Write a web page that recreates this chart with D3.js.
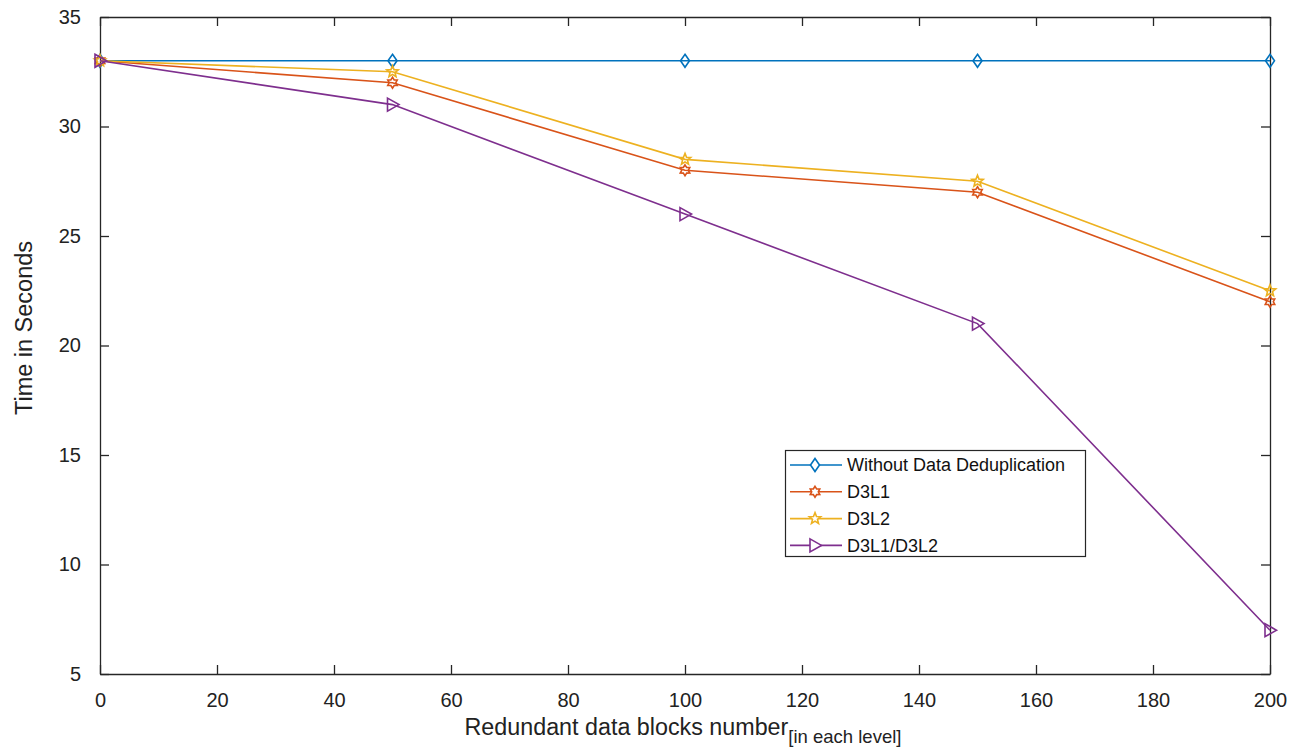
<!DOCTYPE html>
<html>
<head>
<meta charset="utf-8">
<script src="https://cdn.jsdelivr.net/npm/d3@7"></script>
<style>
  body { margin: 0; background: #fff; }
  svg { display: block; font-family: "Liberation Sans", Arial, sans-serif; }
</style>
</head>
<body>
<svg id="chart" width="1303" height="750"></svg>
<script>
// Redundant data blocks (x) and processing time in seconds per method
const blocks = [0, 50, 100, 150, 200];
const withoutDedup = [33, 33, 33, 33, 33];
const d3l1 = [33, 32, 28, 27, 22];
const d3l2 = [33, 32.5, 28.5, 27.5, 22.5];
const d3l1d3l2 = [33, 31, 26, 21, 7];

const seriesNames = ["Without Data Deduplication", "D3L1", "D3L2", "D3L1/D3L2"];
const seriesColors = ["#0072BD", "#D95319", "#EDB120", "#7E2F8E"];
const seriesMarkers = ["diamond", "hexagram", "pentagram", "triangleRight"];
const seriesValues = [withoutDedup, d3l1, d3l2, d3l1d3l2];

const xTicks = [0, 20, 40, 60, 80, 100, 120, 140, 160, 180, 200];
const yTicks = [5, 10, 15, 20, 25, 30, 35];

const svg = d3.select("#chart");
const margin = { left: 100, right: 33, top: 17, bottom: 76 };
const W = 1303, H = 750;
const x = d3.scaleLinear().domain([0, 200]).range([margin.left, W - margin.right]);
const y = d3.scaleLinear().domain([5, 35]).range([H - margin.bottom, margin.top]);

const axisColor = "#262626";
const tickLen = 9;

// Axes: MATLAB-style box with inward ticks on all four sides
const gx = svg.append("g").attr("transform", `translate(0,${y(5)})`)
  .call(d3.axisBottom(x).tickValues(xTicks).tickSizeInner(-tickLen).tickSizeOuter(0).tickPadding(tickLen + 10));
const gxTop = svg.append("g").attr("transform", `translate(0,${y(35)})`)
  .call(d3.axisTop(x).tickValues(xTicks).tickSizeInner(-tickLen).tickSizeOuter(0).tickFormat(""));
const gy = svg.append("g").attr("transform", `translate(${x(0)},0)`)
  .call(d3.axisLeft(y).tickValues(yTicks).tickSizeInner(-tickLen).tickSizeOuter(0).tickPadding(tickLen + 10));
const gyRight = svg.append("g").attr("transform", `translate(${x(200)},0)`)
  .call(d3.axisRight(y).tickValues(yTicks).tickSizeInner(-tickLen).tickSizeOuter(0).tickFormat(""));

[gx, gxTop, gy, gyRight].forEach(g => {
  g.selectAll("path.domain").attr("stroke", axisColor).attr("stroke-width", 1.3);
  g.selectAll(".tick line").attr("stroke", axisColor).attr("stroke-width", 1.3);
  g.selectAll(".tick text").attr("fill", "#222").style("font-size", "20px")
    .style("font-family", "'Liberation Sans', Arial, sans-serif");
});
gx.selectAll(".tick text").attr("dy", "0.71em");

// Axis titles
svg.append("text")
  .attr("x", 0).attr("y", 0)
  .attr("transform", `translate(32,328) rotate(-90)`)
  .attr("text-anchor", "middle")
  .attr("fill", "#222")
  .style("font-size", "23.5px")
  .text("Time in Seconds");

const xl = svg.append("text")
  .attr("x", 683)
  .attr("y", 735)
  .attr("text-anchor", "middle")
  .attr("fill", "#222")
  .style("font-size", "23.3px");
xl.append("tspan").text("Redundant data blocks number");
xl.append("tspan").attr("dy", 8).style("font-size", "18.5px").text("[in each level]");

// Marker shapes
function starPath(points, rOuter, rInner) {
  const pts = [];
  for (let i = 0; i < points * 2; i++) {
    const r = i % 2 === 0 ? rOuter : rInner;
    const a = -Math.PI / 2 + i * Math.PI / points;
    pts.push([r * Math.cos(a), r * Math.sin(a)]);
  }
  return "M" + pts.map(p => p.join(",")).join("L") + "Z";
}
function markerPath(kind) {
  switch (kind) {
    case "diamond": return "M0,-6.5L4.5,0L0,6.5L-4.5,0Z";
    case "hexagram": return starPath(6, 5.5, 3.3);
    case "pentagram": return starPath(5, 6, 2.6);
    case "triangleRight": return "M-5,-6.5L6.5,0L-5,6.5Z";
  }
}

// Lines and markers
const line = d3.line().x((d, i) => x(blocks[i])).y(d => y(d));
seriesValues.forEach((vals, s) => {
  svg.append("path")
    .datum(vals)
    .attr("d", line)
    .attr("fill", "none")
    .attr("stroke", seriesColors[s])
    .attr("stroke-width", 1.6);
  svg.append("g").selectAll("path")
    .data(vals)
    .join("path")
    .attr("transform", (d, i) => `translate(${x(blocks[i])},${y(d)})`)
    .attr("d", markerPath(seriesMarkers[s]))
    .attr("fill", "none")
    .attr("stroke", seriesColors[s])
    .attr("stroke-width", 1.6);
});

// Legend
const lg = svg.append("g");
lg.append("rect")
  .attr("x", 785.5).attr("y", 450.5)
  .attr("width", 300).attr("height", 106)
  .attr("fill", "#fff")
  .attr("stroke", axisColor)
  .attr("stroke-width", 1.2);
seriesNames.forEach((name, s) => {
  const ly = 465 + s * 26.8;
  lg.append("line")
    .attr("x1", 790).attr("x2", 842)
    .attr("y1", ly).attr("y2", ly)
    .attr("stroke", seriesColors[s]).attr("stroke-width", 1.6);
  lg.append("path")
    .attr("transform", `translate(815,${ly})`)
    .attr("d", markerPath(seriesMarkers[s]))
    .attr("fill", "#fff")
    .attr("stroke", seriesColors[s]).attr("stroke-width", 1.6);
  lg.append("text")
    .attr("x", 847).attr("y", ly)
    .attr("dy", "0.35em")
    .attr("fill", "#111")
    .style("font-size", "18px")
    .text(name);
});
</script>
</body>
</html>
